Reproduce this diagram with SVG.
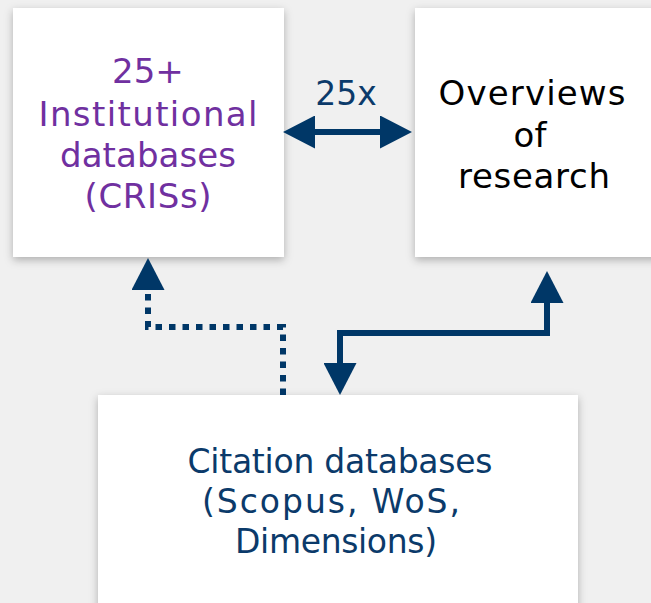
<svg xmlns="http://www.w3.org/2000/svg" width="651" height="603" viewBox="0 0 651 603">
  <style>
    .box { fill: #ffffff; filter: url(#shadow); }
    .lbl { font-family: "DejaVu Sans", Verdana, sans-serif; font-size: 33px; text-anchor: middle; }
    .big { font-size: 34px; }
    .purple { fill: #7030a0; }
    .dark { fill: #000000; }
    .navy { fill: #0b3a6a; }
    .link { fill: none; stroke: #003767; stroke-width: 6; stroke-linejoin: miter; }
    .dotted { stroke-dasharray: 6.5 7; }
  </style>
  <defs>
    <filter id="shadow" x="-20%" y="-20%" width="140%" height="140%">
      <feDropShadow dx="0" dy="3" stdDeviation="4" flood-color="#000000" flood-opacity="0.28"/>
    </filter>
    <marker id="head" viewBox="0 0 32 33" refX="0" refY="16.5" markerWidth="32" markerHeight="33" markerUnits="userSpaceOnUse" orient="auto-start-reverse">
      <path d="M0,0 L32,16.5 L0,33 z" fill="#003767"/>
    </marker>
  </defs>

  <rect width="651" height="603" fill="#f0f0f0"/>

  <g id="node-cris">
    <rect class="box" x="13" y="8" width="271" height="249"/>
    <text class="lbl big purple" x="148" y="83">25+</text>
    <text class="lbl big purple" x="148" y="126" textLength="219">Institutional</text>
    <text class="lbl big purple" x="148" y="167" textLength="176">databases</text>
    <text class="lbl big purple" x="148" y="208" textLength="127">(CRISs)</text>
  </g>

  <g id="node-overviews">
    <rect class="box" x="415" y="8" width="250" height="249"/>
    <text class="lbl big dark" x="532" y="105" textLength="187">Overviews</text>
    <text class="lbl big dark" x="530" y="147">of</text>
    <text class="lbl big dark" x="534" y="188" textLength="152">research</text>
  </g>

  <g id="node-citation">
    <rect class="box" x="98" y="395" width="480" height="220"/>
    <text class="lbl navy" x="340" y="473" textLength="305">Citation databases</text>
    <text class="lbl navy" x="331" y="513" textLength="258">(Scopus, WoS,</text>
    <text class="lbl navy" x="336" y="553" textLength="202">Dimensions)</text>
  </g>

  <g id="connectors">
    <path class="link" d="M315,132 H380" marker-start="url(#head)" marker-end="url(#head)"/>
    <text class="lbl navy" x="346" y="105">25x</text>
    <path class="link dotted" d="M283,395 V327 H148 V290" marker-end="url(#head)"/>
    <path class="link" d="M547,303 V333 H340 V363" marker-start="url(#head)" marker-end="url(#head)"/>
  </g>
</svg>
